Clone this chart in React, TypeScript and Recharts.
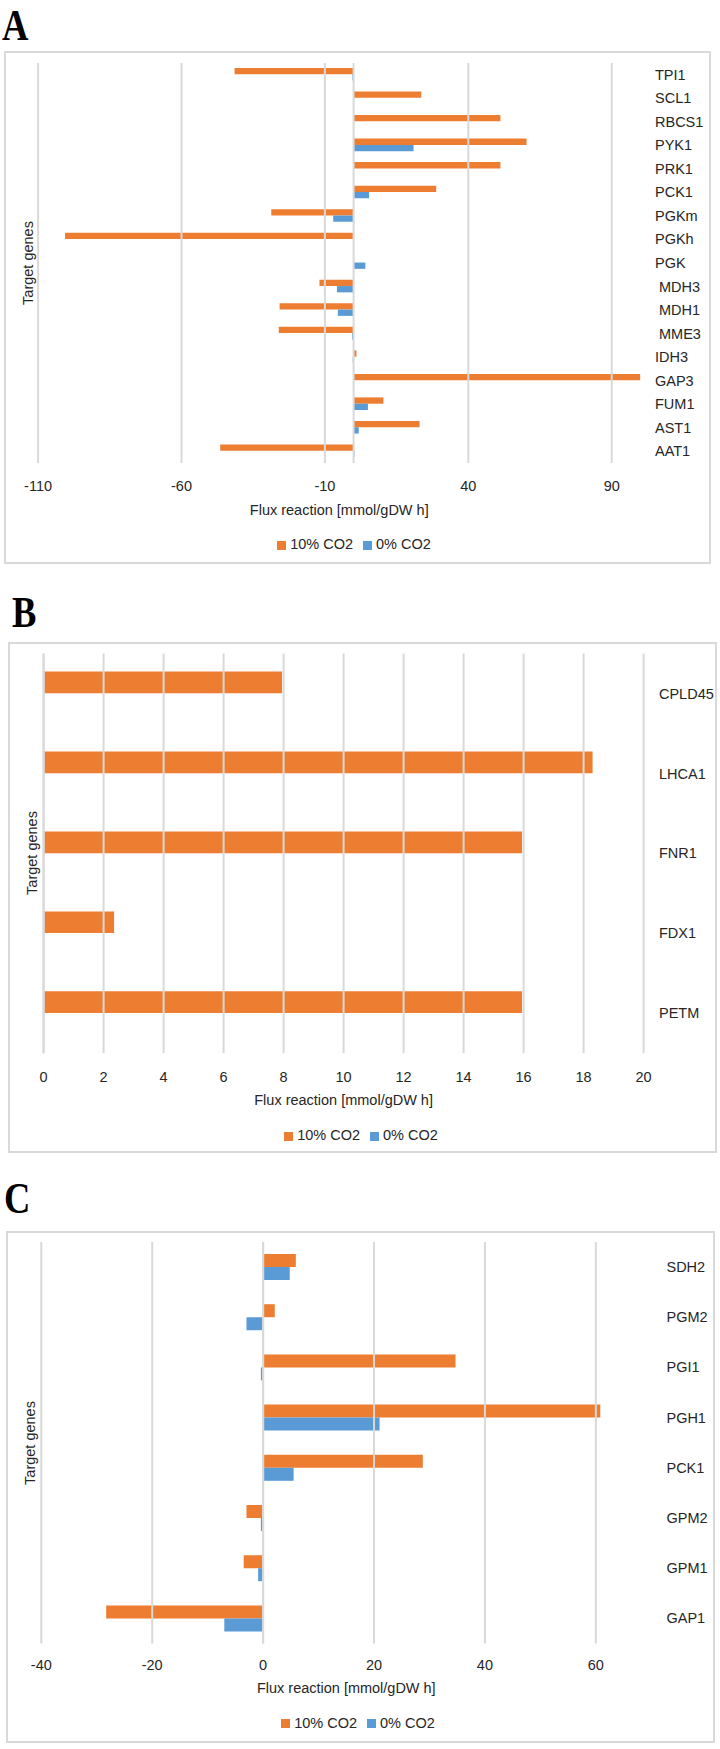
import React from "react";
import {
  BarChart,
  Bar,
  XAxis,
  YAxis,
  ReferenceLine,
  Legend,
  Label,
} from "recharts";

const ORANGE = "#ED7D31";
const BLUE = "#5B9BD5";
const GRID = "#D9D9D9";
const INK = "#262626";
const FONT = "'Liberation Sans', Arial, sans-serif";
const FS = 14.5;

// Panel A
const genesA = [
  "TPI1", "SCL1", "RBCS1", "PYK1", "PRK1", "PCK1", "PGKm", "PGKh", "PGK",
  " MDH3", " MDH1", " MME3", "IDH3", "GAP3", "FUM1", "AST1", "AAT1",
];
const co2TenA = [-41.5, 23.6, 51.2, 60.3, 51.2, 28.8, -28.7, -100.6, 0, -11.9, -25.8, -26.1, 1.0, 100, 10.4, 23.0, -46.5];
const co2ZeroA = [-0.4, 0, 0, 20.9, 0, 5.4, -7.1, 0, 4.1, -5.8, -5.5, -0.5, -0.3, 0, 5.0, 1.8, 0.3];
const ticksA = [-110, -60, -10, 40, 90];

// Panel B
const genesB = ["CPLD45", "LHCA1", "FNR1", "FDX1", "PETM"];
const co2TenB = [7.95, 18.3, 15.95, 2.35, 15.95];
const co2ZeroB = [0, 0, 0, 0, 0];
const ticksB = [0, 2, 4, 6, 8, 10, 12, 14, 16, 18, 20];

// Panel C
const genesC = ["SDH2", "PGM2", "PGI1", "PGH1", "PCK1", "GPM2", "GPM1", "GAP1"];
const co2TenC = [5.9, 2.1, 34.7, 60.8, 28.8, -3.0, -3.5, -28.3];
const co2ZeroC = [4.8, -3.0, -0.4, 21.0, 5.5, -0.4, -0.9, -7.0];
const ticksC = [-40, -20, 0, 20, 40, 60];

type Box = { left: number; top: number; right: number; bottom: number };

type PanelProps = {
  letter: string;
  letterLeft: number;
  letterTop: number;
  genes: string[];
  ten: number[];
  zero: number[];
  domain: [number, number];
  ticks: number[];
  frame: Box;
  plot: Box;
  barSize: number;
  tickY: number;
  titleY: number;
  legendY: number;
  legendX: number;
  labelX: number;
  yTitleX: number;
};

function Panel(p: PanelProps) {
  const data = p.genes.map((g, i) => ({ gene: g, ten: p.ten[i], zero: p.zero[i] }));
  const T = p.frame.top;
  const H = p.frame.bottom - T;
  const xh = 1;
  const margin = {
    top: p.plot.top - T,
    left: p.plot.left,
    right: 0,
    bottom: p.frame.bottom - p.plot.bottom - xh,
  };
  const offY = p.tickY - p.plot.bottom;
  const offX = p.labelX - p.plot.right;

  return (
    <>
      <div
        style={{
          position: "absolute",
          left: p.letterLeft,
          top: p.letterTop,
          fontFamily: "'Liberation Serif', serif",
          fontWeight: "bold",
          fontSize: 44,
          lineHeight: "normal",
          transform: "scaleX(0.83)",
          transformOrigin: "left top",
          color: "#000",
        }}
      >
        {p.letter}
      </div>
      <div
        style={{
          position: "absolute",
          left: p.frame.left,
          top: T,
          width: p.frame.right - p.frame.left,
          height: H,
          border: `2px solid ${GRID}`,
          boxSizing: "border-box",
        }}
      />
      <div
        style={{
          position: "absolute",
          left: p.yTitleX,
          top: (p.plot.top + p.plot.bottom) / 2,
          transform: "translate(-50%, -50%) rotate(-90deg)",
          whiteSpace: "nowrap",
          fontFamily: FONT,
          fontSize: FS,
          color: INK,
        }}
      >
        Target genes
      </div>
      <div style={{ position: "absolute", left: 0, top: T }}>
        <BarChart
          width={720}
          height={H}
          data={data}
          layout="vertical"
          margin={margin}
          barGap={0}
          barSize={p.barSize}
        >
          <XAxis
            type="number"
            domain={p.domain}
            ticks={p.ticks}
            interval={0}
            allowDataOverflow
            axisLine={false}
            tickLine={false}
            tickSize={0}
            tickMargin={0}
            height={xh}
            tick={(props: any) => (
              <text
                x={props.x}
                y={props.y + offY}
                textAnchor="middle"
                dominantBaseline="central"
                fill={INK}
                fontSize={FS}
                fontFamily={FONT}
              >
                {props.payload.value}
              </text>
            )}
          >
            <Label
              value="Flux reaction [mmol/gDW h]"
              position="bottom"
              offset={p.titleY - 5.1 - p.plot.bottom - xh}
              fill={INK}
              fontSize={FS}
              fontFamily={FONT}
            />
          </XAxis>
          <YAxis
            type="category"
            dataKey="gene"
            orientation="right"
            width={720 - p.plot.right}
            axisLine={false}
            tickLine={false}
            tickSize={0}
            tickMargin={0}
            interval={0}
            tick={(props: any) => (
              <text
                x={props.x + offX}
                y={props.y}
                textAnchor="start"
                dominantBaseline="central"
                fill={INK}
                fontSize={FS}
                fontFamily={FONT}
                style={{ whiteSpace: "pre" }}
              >
                {props.payload.value}
              </text>
            )}
          />
          {p.ticks.map((t) => (
            <ReferenceLine key={t} x={t} stroke={GRID} strokeWidth={2} />
          ))}
          <Bar dataKey="ten" name="10% CO2" fill={ORANGE} isAnimationActive={false} />
          <Bar dataKey="zero" name="0% CO2" fill={BLUE} isAnimationActive={false} />
          <ReferenceLine x={0} stroke={GRID} strokeWidth={2} />
          <Legend
            verticalAlign="middle"
            align="center"
            layout="horizontal"
            iconType="square"
            iconSize={9}
            itemSorter="dataKey"
            wrapperStyle={{
              top: p.legendY - T - 10,
              left: p.legendX - 150,
              width: 300,
              height: 20,
              lineHeight: "20px",
              fontFamily: FONT,
              fontSize: FS,
            }}
            formatter={(v: string) => <span style={{ color: INK }}>{v}</span>}
          />
        </BarChart>
      </div>
    </>
  );
}

export default function App() {
  return (
    <div style={{ position: "absolute", left: 0, top: 0, width: 720, height: 1749, background: "#fff" }}>
      <Panel
        letter="A"
        letterLeft={2}
        letterTop={0}
        genes={genesA}
        ten={co2TenA}
        zero={co2ZeroA}
        domain={[-110, 100]}
        ticks={ticksA}
        frame={{ left: 4, top: 51, right: 711, bottom: 564 }}
        plot={{ left: 38.1, top: 63, right: 640.4, bottom: 463 }}
        barSize={6.3}
        tickY={486}
        titleY={510}
        legendY={544}
        legendX={359}
        labelX={655}
        yTitleX={27.5}
      />
      <Panel
        letter="B"
        letterLeft={12}
        letterTop={587}
        genes={genesB}
        ten={co2TenB}
        zero={co2ZeroB}
        domain={[0, 20]}
        ticks={ticksB}
        frame={{ left: 8.3, top: 641.7, right: 716.7, bottom: 1153.3 }}
        plot={{ left: 43.6, top: 653.3, right: 643.6, bottom: 1053 }}
        barSize={21.7}
        tickY={1076.7}
        titleY={1100}
        legendY={1135}
        legendX={366}
        labelX={659}
        yTitleX={32}
      />
      <Panel
        letter="C"
        letterLeft={3.5}
        letterTop={1173}
        genes={genesC}
        ten={co2TenC}
        zero={co2ZeroC}
        domain={[-40, 70]}
        ticks={ticksC}
        frame={{ left: 6.4, top: 1230.7, right: 715, bottom: 1743 }}
        plot={{ left: 41.3, top: 1241.7, right: 651.3, bottom: 1643.3 }}
        barSize={13}
        tickY={1665}
        titleY={1688}
        legendY={1722.7}
        legendX={363}
        labelX={666.5}
        yTitleX={29.8}
      />
    </div>
  );
}
